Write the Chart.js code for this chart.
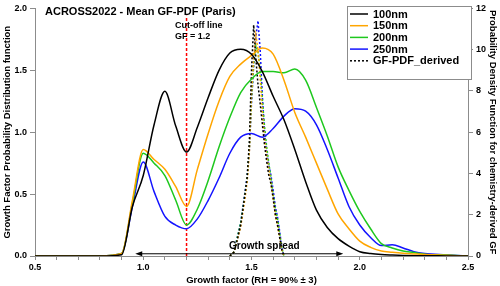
<!DOCTYPE html>
<html>
<head>
<meta charset="utf-8">
<script src="https://cdn.jsdelivr.net/npm/chart.js@4.4.1/dist/chart.umd.min.js"></script>
<style>
    html, body { margin: 0; padding: 0; background: #ffffff; }
    #wrap { width: 500px; height: 286px; position: relative; }
</style>
</head>
<body>
<div id="wrap"><canvas id="gfChart"></canvas></div>
<script>
'use strict'

// growth factor grid of the measured GF-PDFs
const gf = [0.5, 0.6, 0.7, 0.8, 0.9, 0.95, 1.0, 1.05, 1.1, 1.15, 1.2, 1.25, 1.3, 1.35, 1.4, 1.45, 1.5, 1.55,
    1.6, 1.65, 1.7, 1.75, 1.8, 1.85, 1.9, 1.95, 2.0, 2.05, 2.1, 2.15, 2.2, 2.25, 2.3, 2.4, 2.5];

const pdf100 = [0, 0, 0, 0, 0.01, 0.4, 0.65, 1.06, 1.33, 1.05, 0.84, 1.04, 1.28, 1.5, 1.64, 1.67, 1.63, 1.49,
    1.29, 1.1, 0.86, 0.6, 0.37, 0.23, 0.14, 0.08, 0.035, 0.02, 0.012, 0.008, 0.005, 0.003, 0.002, 0.001, 0];
const pdf150 = [0, 0, 0, 0, 0.02, 0.45, 0.86, 0.78, 0.7, 0.56, 0.4, 0.7, 0.99, 1.25, 1.45, 1.55, 1.62, 1.68,
    1.63, 1.42, 1.16, 0.96, 0.75, 0.54, 0.34, 0.22, 0.12, 0.07, 0.04, 0.03, 0.022, 0.017, 0.012, 0.006, 0];
const pdf200 = [0, 0, 0, 0, 0.02, 0.43, 0.83, 0.75, 0.65, 0.45, 0.25, 0.38, 0.61, 0.88, 1.12, 1.32, 1.43, 1.49,
    1.49, 1.48, 1.51, 1.42, 1.2, 0.97, 0.72, 0.53, 0.36, 0.22, 0.1, 0.065, 0.04, 0.028, 0.015, 0.008, 0];
const pdf250 = [0, 0, 0, 0, 0.02, 0.4, 0.76, 0.52, 0.32, 0.25, 0.22, 0.3, 0.45, 0.63, 0.83, 0.96, 0.99, 0.96,
    1.03, 1.13, 1.19, 1.17, 1.06, 0.86, 0.63, 0.4, 0.25, 0.15, 0.085, 0.09, 0.065, 0.035, 0.02, 0.01, 0];

// chemistry-derived GF-PDF (right axis)
const gfDerived = [1.40, 1.42, 1.43, 1.45, 1.47, 1.48, 1.49, 1.50, 1.51, 1.52, 1.53, 1.54, 1.55, 1.56, 1.57,
    1.58, 1.59, 1.60, 1.61, 1.62, 1.63, 1.64, 1.65];
const derived100 = [0, 0.2, 0.6, 1.5, 3.0, 3.8, 5.5, 9.0, 11.2, 9.6, 8.3, 7.4, 6.4, 5.4, 4.6, 3.9, 3.5, 2.8, 2.0, 1.5, 0.9, 0.3, 0];
const derived150 = [0, 0.2, 0.6, 1.4, 2.8, 3.6, 5.0, 7.8, 9.6, 10.7, 10.0, 8.6, 7.0, 5.7, 4.9, 4.2, 3.5, 2.8, 2.0, 1.5, 0.9, 0.3, 0];
const derived200 = [0, 0.2, 0.7, 1.6, 3.0, 3.8, 5.2, 7.6, 9.3, 10.2, 9.9, 9.0, 7.6, 6.3, 5.3, 4.5, 3.8, 3.0, 2.3, 1.8, 1.1, 0.4, 0];
const derived250 = [0, 0.2, 0.7, 1.6, 3.1, 3.9, 5.1, 7.4, 9.2, 10.6, 11.4, 10.0, 7.8, 6.0, 5.0, 4.4, 3.9, 3.2, 2.4, 1.9, 1.2, 0.4, 0];

const sizeLabels = ['100nm', '150nm', '200nm', '250nm'];
const derivedLabel = 'GF-PDF_derived';
const sizeColors = ['#000000', '#ffa500', '#1ec81e', '#1414ff'];

const cutoffGF = 1.2;
const cutoffTop = 1.94;
const spreadRange = [0.963, 1.924];

const xTicks = [0.5, 1.0, 1.5, 2.0, 2.5];
const yLeftTicks = [0, 0.5, 1.0, 1.5, 2.0];
const yRightTicks = [0, 2, 4, 6, 8, 10, 12];

const toPoints = (xs, ys) => xs.map((x, i) => ({ x: x, y: ys[i] }));

const solidSets = [pdf100, pdf150, pdf200, pdf250].map((vals, i) => ({
    label: sizeLabels[i],
    data: toPoints(gf, vals),
    borderColor: sizeColors[i],
    borderWidth: 1.5,
    pointRadius: 0,
    cubicInterpolationMode: 'monotone',
    yAxisID: 'y'
}));

const derivedSets = [derived100, derived150, derived200, derived250].map((vals, i) => ({
    label: derivedLabel,
    data: toPoints(gfDerived, vals),
    borderColor: sizeColors[i],
    borderWidth: 1.5,
    borderDash: [2, 2],
    pointRadius: 0,
    tension: 0,
    yAxisID: 'y1'
}));

const cutoffSet = {
    label: 'cutoff',
    data: [{ x: cutoffGF, y: 0 }, { x: cutoffGF, y: cutoffTop }],
    borderColor: '#ff0000',
    borderWidth: 1.5,
    borderDash: [3, 2],
    pointRadius: 0,
    yAxisID: 'y'
};

const axisGray = '#8c8c8c';
const boldFont = (size) => ({ family: 'Liberation Sans, Arial, sans-serif', size: size, weight: 'bold' });

// title, notes, arrow and legend drawn inside the plot
const extras = {
    id: 'extras',
    afterDatasetsDraw(chart) {
        const ctx = chart.ctx;
        const xs = chart.scales.x;
        const ys = chart.scales.y;
        ctx.save();
        ctx.fillStyle = '#000';
        ctx.textBaseline = 'middle';
        ctx.textAlign = 'left';

        ctx.font = 'bold 11px "Liberation Sans", Arial, sans-serif';
        ctx.fillText('ACROSS2022 - Mean GF-PDF (Paris)', 45, 12);

        ctx.font = 'bold 9px "Liberation Sans", Arial, sans-serif';
        ctx.fillText('Cut-off line', 175, 26);
        ctx.fillText('GF = 1.2', 175, 37);

        // growth spread arrow
        const ay = ys.getPixelForValue(0.018);
        const ax1 = xs.getPixelForValue(spreadRange[0]);
        const ax2 = xs.getPixelForValue(spreadRange[1]);
        ctx.strokeStyle = '#000';
        ctx.lineWidth = 1;
        ctx.beginPath();
        ctx.moveTo(ax1 + 5, ay);
        ctx.lineTo(ax2 - 5, ay);
        ctx.stroke();
        ctx.beginPath();
        ctx.moveTo(ax1, ay);
        ctx.lineTo(ax1 + 7, ay - 2.5);
        ctx.lineTo(ax1 + 7, ay + 2.5);
        ctx.closePath();
        ctx.moveTo(ax2, ay);
        ctx.lineTo(ax2 - 7, ay - 2.5);
        ctx.lineTo(ax2 - 7, ay + 2.5);
        ctx.closePath();
        ctx.fill();
        ctx.font = 'bold 10px "Liberation Sans", Arial, sans-serif';
        ctx.fillText('Growth spread', 229, 246);

        // legend box
        ctx.fillStyle = '#ffffff';
        ctx.fillRect(347, 6, 125, 74);
        ctx.strokeStyle = axisGray;
        ctx.lineWidth = 1;
        ctx.strokeRect(347.5, 6.5, 124, 73);
        const entries = solidSets.map(d => ({ text: d.label, color: d.borderColor, dash: [] }));
        entries.push({ text: derivedLabel, color: '#000000', dash: [2, 2] });
        ctx.font = 'bold 11px "Liberation Sans", Arial, sans-serif';
        entries.forEach((e, i) => {
            const y = 14 + i * 11.7;
            ctx.strokeStyle = e.color;
            ctx.lineWidth = 1.5;
            ctx.setLineDash(e.dash);
            ctx.beginPath();
            ctx.moveTo(350, y);
            ctx.lineTo(368, y);
            ctx.stroke();
            ctx.setLineDash([]);
            ctx.fillStyle = '#000';
            ctx.fillText(e.text, 373, y + 0.5);
        });
        ctx.restore();
    }
};

const pickTicks = (list) => function (axis) {
    axis.ticks = list.map(v => ({ value: v }));
};

new Chart(document.getElementById('gfChart').getContext('2d'), {
    type: 'line',
    data: { datasets: [...solidSets, ...derivedSets, cutoffSet] },
    options: {
        responsive: true,
        maintainAspectRatio: false,
        animation: false,
        layout: { padding: { top: 5, left: 0, right: 0, bottom: 0 } },
        plugins: {
            legend: { display: false },
            tooltip: { enabled: false }
        },
        scales: {
            x: {
                type: 'linear',
                min: 0.5,
                max: 2.5,
                afterBuildTicks: function (axis) {
                    const t = [];
                    for (let i = 0; i <= 20; i++) t.push({ value: +(0.5 + i * 0.1).toFixed(1) });
                    axis.ticks = t;
                },
                afterFit: function (axis) { axis.height = 30; },
                ticks: {
                    autoSkip: false,
                    maxRotation: 0,
                    padding: 2,
                    color: '#000',
                    font: boldFont(9),
                    callback: (v) => xTicks.some(t => Math.abs(t - v) < 1e-6) ? v.toFixed(1) : ''
                },
                grid: { drawOnChartArea: false, tickLength: 4, tickColor: axisGray },
                border: { color: axisGray, width: 1 },
                title: {
                    display: true,
                    text: 'Growth factor (RH = 90% ± 3)',
                    color: '#000',
                    font: boldFont(9.5),
                    padding: { top: 0, bottom: 0 }
                }
            },
            y: {
                position: 'left',
                min: 0,
                max: 2,
                afterBuildTicks: pickTicks(yLeftTicks),
                afterFit: function (axis) { axis.width = 35; },
                ticks: { padding: 3, color: '#000', font: boldFont(9), callback: (v) => v.toFixed(1) },
                grid: { drawOnChartArea: false, tickLength: 5, tickColor: axisGray },
                border: { color: axisGray, width: 1 },
                title: {
                    display: true,
                    text: 'Growth Factor Probability Distribution function',
                    color: '#000',
                    font: boldFont(9.5),
                    padding: { top: 2, bottom: 0 }
                }
            },
            y1: {
                position: 'right',
                min: 0,
                max: 12,
                afterBuildTicks: pickTicks(yRightTicks),
                afterFit: function (axis) { axis.width = 32; },
                ticks: { padding: 3, color: '#000', font: boldFont(9) },
                grid: { drawOnChartArea: false, tickLength: 5, tickColor: axisGray },
                border: { color: axisGray, width: 1 },
                title: {
                    display: true,
                    text: 'Probability Density Function for chemistry-derived GF',
                    color: '#000',
                    font: boldFont(9.5),
                    padding: { top: 2, bottom: 0 }
                }
            }
        }
    },
    plugins: [extras]
});
</script>
</body>
</html>
